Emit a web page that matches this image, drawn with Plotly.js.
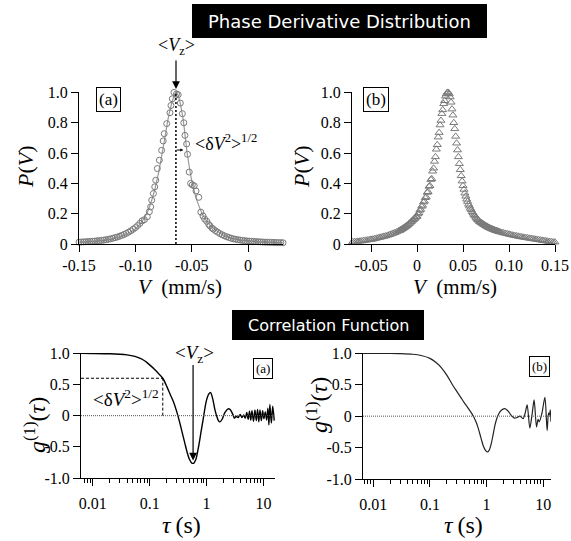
<!DOCTYPE html>
<html><head><meta charset="utf-8">
<script src="https://cdn.plot.ly/plotly-3.0.1.min.js"></script>
<style>html,body{margin:0;padding:0;background:#fff;}#plot{width:571px;height:541px;}</style>
</head><body><div id="plot"></div>
<script>
// ---- Data ----
// (a) phase derivative distribution, circles
const tlV = [-0.150,-0.148,-0.146,-0.144,-0.142,-0.140,-0.138,-0.136,-0.134,-0.132,-0.130,-0.128,-0.126,-0.124,-0.122,-0.120,-0.118,-0.116,-0.114,-0.112,-0.110,-0.108,-0.106,-0.104,-0.102,-0.100,-0.098,-0.096,-0.094,-0.092,
 -0.0894,-0.0876,-0.0864,-0.0855,-0.0840,-0.0828,-0.0819,-0.0805,-0.0787,-0.0767,-0.0753,-0.0744,-0.0722,-0.0693,-0.0684,-0.0672,-0.0657,
 -0.0635,-0.0620,-0.0601,-0.0583,-0.0570,-0.0560,-0.0545,-0.0537,-0.0522,-0.0510,-0.0495,-0.0478,-0.0462,-0.0437,-0.0419,-0.0400,-0.0385,-0.0367,-0.0350,-0.0338,-0.0320,-0.0308,
 -0.029,-0.027,-0.025,-0.023,-0.021,-0.019,-0.017,-0.015,-0.013,-0.011,-0.009,-0.007,-0.005,-0.003,-0.001,0.001,0.003,0.005,0.007,0.009,0.011,0.013,0.015,0.017,0.019,0.021,0.023,0.025,0.027,0.029,0.031];
const tlP = [0.012,0.013,0.014,0.015,0.016,0.017,0.018,0.019,0.021,0.022,0.024,0.026,0.028,0.031,0.034,0.038,0.042,0.046,0.051,0.057,0.063,0.070,0.078,0.087,0.097,0.108,0.121,0.136,0.153,0.160,
 0.180,0.213,0.245,0.289,0.333,0.377,0.421,0.498,0.553,0.618,0.680,0.728,0.794,0.866,0.914,0.958,1.000,
 0.990,0.985,0.930,0.860,0.800,0.717,0.660,0.592,0.475,0.400,0.390,0.384,0.350,0.308,0.210,0.185,0.165,0.150,0.130,0.120,0.105,0.098,
 0.088,0.078,0.069,0.061,0.054,0.048,0.043,0.038,0.034,0.031,0.028,0.026,0.024,0.022,0.020,0.019,0.018,0.017,0.016,0.015,0.014,0.013,0.012,0.012,0.011,0.011,0.010,0.010,0.009,0.009,0.008];
// (a) fitted curve (gray line)
const fitV = [-0.15,-0.14,-0.13,-0.12,-0.11,-0.10,-0.095,-0.09,-0.085,-0.08,-0.075,-0.07,-0.066,-0.064,-0.062,-0.058,-0.054,-0.05,-0.045,-0.04,-0.035,-0.03,-0.02,-0.01,0,0.01,0.02,0.031];
const fitP = [0.012,0.016,0.022,0.034,0.058,0.10,0.14,0.20,0.30,0.45,0.65,0.86,0.97,1.0,0.98,0.84,0.60,0.42,0.28,0.19,0.135,0.10,0.052,0.03,0.02,0.014,0.011,0.008];
// (b) phase derivative distribution, triangles (first set)
const trV = [-0.070,-0.068,-0.066,-0.064,-0.062,-0.060,-0.058,-0.056,-0.054,-0.052,
 -0.050,-0.048,-0.046,-0.044,-0.042,-0.040,-0.038,-0.036,-0.034,-0.032,
 -0.030,-0.028,-0.026,-0.024,-0.022,-0.020,-0.018,-0.016,-0.014,-0.012,
 -0.010,-0.008,-0.006,-0.004,-0.002,0.000,0.002,0.004,0.006,0.008,
 0.010,0.012,0.014,0.016,0.018,0.020,0.022,0.024,0.026,0.028,
 0.030,0.032,0.034,0.036,0.038,0.040,0.042,0.044,0.046,0.048,
 0.050,0.052,0.054,0.056,0.058,0.060,0.062,0.064,0.066,0.068,
 0.070,0.072,0.074,0.076,0.078,0.080,0.082,0.084,0.086,0.088,
 0.090,0.092,0.094,0.096,0.098,0.100,0.102,0.104,0.106,0.108,
 0.110,0.112,0.114,0.116,0.118,0.120,0.122,0.124,0.126,0.128,
 0.130,0.132,0.134,0.136,0.138,0.140,0.142,0.144,0.146,0.148,0.150];
const trP = [0.014,0.015,0.016,0.017,0.019,0.020,0.022,0.024,0.026,0.028,
 0.030,0.032,0.035,0.038,0.041,0.044,0.047,0.050,0.053,0.057,
 0.061,0.065,0.070,0.075,0.080,0.086,0.093,0.100,0.108,0.117,
 0.125,0.136,0.148,0.160,0.170,0.182,0.205,0.228,0.255,0.282,
 0.310,0.345,0.385,0.430,0.500,0.575,0.655,0.735,0.815,0.885,
 0.945,0.990,1.000,0.970,0.890,0.800,0.710,0.620,0.530,0.450,
 0.385,0.335,0.295,0.262,0.235,0.212,0.192,0.175,0.160,0.147,
 0.140,0.131,0.123,0.116,0.109,0.103,0.098,0.093,0.088,0.084,
 0.080,0.076,0.073,0.070,0.067,0.064,0.061,0.058,0.056,0.053,
 0.051,0.048,0.046,0.044,0.042,0.040,0.038,0.036,0.034,0.032,
 0.030,0.028,0.026,0.024,0.022,0.020,0.018,0.016,0.015,0.013,0.012];
// (b) triangles (second, interleaved set in the dense central part)
const trV2 = [-0.019,-0.017,-0.015,-0.013,-0.011,-0.009,-0.007,-0.005,-0.003,-0.001,
 0.001,0.003,0.005,0.007,0.009,0.011,0.013,0.015,0.017,0.019,
 0.021,0.023,0.025,0.027,0.029,0.031,0.033,0.035,0.037,0.039,
 0.041,0.043,0.045,0.047,0.049,0.051,0.053,0.055,0.057,0.059,
 0.061,0.063,0.065,0.067,0.069,0.071,0.073,0.075,0.077,0.079,
 0.081,0.083,0.085,0.087,0.089];
const trP2 = [0.088,0.096,0.104,0.113,0.122,0.132,0.144,0.156,0.168,0.180,
 0.198,0.222,0.248,0.276,0.305,0.340,0.380,0.425,0.480,0.545,
 0.625,0.705,0.785,0.860,0.925,0.975,1.000,0.990,0.935,0.850,
 0.760,0.665,0.575,0.490,0.415,0.360,0.315,0.280,0.250,0.225,
 0.203,0.185,0.168,0.155,0.143,0.135,0.127,0.119,0.112,0.106,
 0.100,0.095,0.090,0.086,0.082];
// (a) correlation function
const tauA = [0.0062,0.01,0.02,0.03,0.04,0.05,0.06,0.07,0.08,0.09,0.10,0.12,0.14,0.17,0.20,0.23,0.26,0.30,0.34,0.38,0.42,0.46,0.50,0.55,0.60,0.65,0.70,0.75,0.80,0.85,0.90,0.95,1.0,1.1,1.18,1.3,1.4,1.5,1.6,1.72,1.9,2.1,2.4,2.6,2.9,3.1,3.3,3.6,3.9,4.2,4.5,4.8,5.1,5.4,5.7,6.0,6.3,6.7,7.1,7.5,7.9,8.3,8.7,9.2,9.7,10.2,10.8,11.4,12.0,12.5,13.0,13.8,14.6,15.5];
const gA = [1.0,0.998,0.993,0.985,0.975,0.96,0.94,0.915,0.885,0.85,0.815,0.75,0.685,0.60,0.47,0.34,0.23,0.06,-0.12,-0.30,-0.46,-0.60,-0.70,-0.76,-0.76,-0.70,-0.57,-0.42,-0.26,-0.12,0.02,0.15,0.25,0.35,0.37,0.25,0.10,0.0,-0.07,-0.10,-0.05,0.05,0.11,0.10,0.02,-0.04,-0.01,-0.03,0.02,-0.03,0.01,-0.04,0.05,-0.06,0.07,-0.07,0.08,-0.09,0.09,-0.08,0.10,-0.10,0.09,-0.08,0.08,-0.05,0.06,-0.07,0.12,-0.15,0.18,-0.12,0.15,-0.08];
// (b) correlation function
const tauB = [0.0062,0.01,0.02,0.03,0.05,0.07,0.10,0.13,0.16,0.20,0.25,0.30,0.35,0.40,0.45,0.50,0.55,0.60,0.65,0.70,0.76,0.82,0.88,0.95,1.03,1.1,1.2,1.3,1.4,1.5,1.6,1.8,2.1,2.4,2.8,3.1,3.5,3.9,4.4,4.8,5.2,5.8,6.4,6.9,7.6,8.1,8.5,9.5,10.7,11.7,12.4,12.9,13.3,13.7];
const gB = [1.0,1.0,0.998,0.995,0.985,0.965,0.92,0.85,0.77,0.65,0.50,0.39,0.30,0.22,0.155,0.095,0.04,-0.02,-0.09,-0.17,-0.28,-0.39,-0.48,-0.54,-0.57,-0.55,-0.45,-0.30,-0.15,-0.05,0.02,0.09,0.12,0.08,0.0,-0.03,-0.02,0.0,-0.04,0.05,0.18,-0.19,0.05,0.26,-0.17,-0.05,-0.09,0.05,0.30,-0.23,0.05,0.02,0.10,-0.09];
// tick labels
const tlXTicks = [-0.15,-0.10,-0.05,0];
const tlXText = ["-0.15","-0.10","-0.05","0"];
const trXTicks = [-0.05,0,0.05,0.10,0.15];
const trXText = ["-0.05","0","0.05","0.10","0.15"];
const pTicks = [0,0.2,0.4,0.6,0.8,1.0];
const pText = ["0","0.2","0.4","0.6","0.8","1.0"];
const gTicks = [-1.0,-0.5,0,0.5,1.0];
const gText = ["-1.0","-0.5","0","0.5","1.0"];
const tauTicks = [0.01,0.1,1,10];
const tauText = ["0.01","0.1","1","10"];
// annotation reference values
const vzA = -0.064;          // <Vz> in panel (a)
const dvA = -0.0575;         // tip of small width arrow
const dvLevel = 0.62;
const tauWidth = 0.17, gWidth = 0.6;
const tauVz = 0.58, gVzTip = -0.72;

// ---- layout helpers ----
const W = 571, H = 541;
const PX = x => x / W, PY = y => 1 - y / H;
const serif = "Liberation Serif";
const sans = "DejaVu Sans";
const tickFont = {family: serif, size: 16, color: "#000"};
function axBase(extra) {
  return Object.assign({showline: true, linecolor: "#000", linewidth: 1, ticks: "outside", ticklen: 7,
    tickcolor: "#000", tickwidth: 1, showgrid: false, zeroline: false, tickfont: tickFont,
    tickmode: "array", fixedrange: true}, extra);
}
function minorLog(lo, hi) {
  const v = [];
  for (let d = -3; d <= 2; d++) for (let k = 2; k <= 9; k++) { const t = k * Math.pow(10, d); if (t >= lo && t <= hi) v.push(t); }
  return {ticks: "outside", ticklen: 4, tickcolor: "#000", tickwidth: 1, tickmode: "array", tickvals: v, showgrid: false};
}

const triMarker = {symbol: "triangle-up-open", size: 7, color: "#7a7a7a", line: {width: 1, color: "#7a7a7a"}};
const traces = [
  {x: fitV, y: fitP, xaxis: "x", yaxis: "y", mode: "lines", line: {color: "#9a9a9a", width: 1.2, shape: "spline"}, hoverinfo: "skip"},
  {x: tlV, y: tlP, xaxis: "x", yaxis: "y", mode: "markers", cliponaxis: false,
   marker: {symbol: "circle-open", size: 6, color: "#7a7a7a", line: {width: 1, color: "#7a7a7a"}}},
  {x: trV, y: trP, xaxis: "x2", yaxis: "y2", mode: "markers", cliponaxis: false, marker: triMarker},
  {x: trV2, y: trP2, xaxis: "x2", yaxis: "y2", mode: "markers", cliponaxis: false, marker: triMarker},
  {x: tauA, y: gA, xaxis: "x3", yaxis: "y3", mode: "lines", line: {color: "#000", width: 1.4, shape: "spline", smoothing: 0.8}},
  {x: tauB, y: gB, xaxis: "x4", yaxis: "y4", mode: "lines", line: {color: "#222", width: 1.2, shape: "spline", smoothing: 0.8}}
];

const topY = [PY(244), PY(92)];
const layout = {
  width: W, height: H, margin: {l: 0, r: 0, t: 0, b: 0}, showlegend: false,
  font: {family: serif, color: "#000"},
  paper_bgcolor: "#fff", plot_bgcolor: "rgba(0,0,0,0)",
  xaxis: axBase({domain: [PX(79), PX(283)], range: [-0.15, 0.031], anchor: "y", tickvals: tlXTicks, ticktext: tlXText}),
  yaxis: axBase({domain: topY, range: [0, 1.003], anchor: "x", tickvals: pTicks, ticktext: pText}),
  xaxis2: axBase({domain: [PX(352), PX(555)], range: [-0.0707, 0.15], anchor: "y2", tickvals: trXTicks, ticktext: trXText}),
  yaxis2: axBase({domain: topY, range: [0, 1.003], anchor: "x2", tickvals: pTicks, ticktext: pText}),
  xaxis3: axBase({domain: [PX(81), PX(275)], type: "log", range: [Math.log10(0.0062), Math.log10(16)], anchor: "y3",
    tickvals: tauTicks, ticktext: tauText, minor: minorLog(0.0062, 16), ticklabelstandoff: 4}),
  yaxis3: axBase({domain: [PY(478), PY(353)], range: [-1.0, 1.005], anchor: "x3", tickvals: gTicks, ticktext: gText}),
  xaxis4: axBase({domain: [PX(363), PX(551)], type: "log", range: [Math.log10(0.0066), Math.log10(13.7)], anchor: "y4",
    tickvals: tauTicks, ticktext: tauText, minor: minorLog(0.0066, 13.7), ticklabelstandoff: 4}),
  yaxis4: axBase({domain: [PY(479), PY(353)], range: [-1.0, 1.005], anchor: "x4", tickvals: gTicks, ticktext: gText}),
  shapes: [
    {type: "rect", xref: "paper", yref: "paper", x0: PX(192), x1: PX(487), y0: PY(38), y1: PY(4), fillcolor: "#000", line: {width: 0}},
    {type: "rect", xref: "paper", yref: "paper", x0: PX(232), x1: PX(424), y0: PY(340), y1: PY(310), fillcolor: "#000", line: {width: 0}},
    {type: "line", xref: "x", yref: "y", x0: vzA, x1: vzA, y0: 0, y1: 1.0, line: {color: "#000", width: 1.5, dash: "2px,2px"}},
    {type: "line", xref: "x3 domain", yref: "y3", x0: 0, x1: 1, y0: 0, y1: 0, line: {color: "#555", width: 1, dash: "1px,1px"}},
    {type: "line", xref: "x3", yref: "y3", x0: 0.0062, x1: tauWidth, y0: gWidth, y1: gWidth, line: {color: "#000", width: 1, dash: "3px,2px"}},
    {type: "line", xref: "x3", yref: "y3", x0: tauWidth, x1: tauWidth, y0: 0, y1: gWidth, line: {color: "#000", width: 1, dash: "3px,2px"}},
    {type: "line", xref: "x4 domain", yref: "y4", x0: 0, x1: 1, y0: 0, y1: 0, line: {color: "#555", width: 1, dash: "1px,1px"}}
  ],
  annotations: []
};

const A = layout.annotations;
function txt(x, y, text, size, opts) {
  A.push(Object.assign({xref: "paper", yref: "paper", x: PX(x), y: PY(y), text: text, showarrow: false,
    xanchor: "center", yanchor: "middle", font: {family: serif, size: size, color: "#000"}}, opts || {}));
}
// banners
txt(339.5, 21, "Phase Derivative Distribution", 18, {font: {family: sans, size: 18, color: "#fff"}});
txt(328.5, 325, "Correlation Function", 16, {font: {family: sans, size: 16, color: "#fff"}});
// axis titles
txt(25, 167, "<i>P</i>(<i>V</i>)", 22, {textangle: -90});
txt(180, 287, "<i>V</i>\u00a0 (mm/s)", 21);
txt(301, 167, "<i>P</i>(<i>V</i>)", 22, {textangle: -90});
txt(455, 287, "<i>V</i>\u00a0 (mm/s)", 21);
txt(35, 425, "<i>g</i><sup>(1)</sup>(<i>τ</i>)", 24, {textangle: -90});
txt(181, 525, "<i>τ</i>\u2009(s)", 24);
txt(317, 405, "<i>g</i><sup>(1)</sup>(<i>τ</i>)", 24, {textangle: -90});
txt(463, 525, "<i>τ</i>\u2009(s)", 24);
// panel labels
const box = {bordercolor: "#000", borderwidth: 1, borderpad: 2, bgcolor: "#fff"};
txt(108.5, 99.5, "(a)", 17, box);
txt(376, 99.5, "(b)", 17, box);
txt(262.5, 368, "(a)", 13, box);
txt(539.5, 366.5, "(b)", 13, box);
// <Vz> labels and width labels
txt(176, 47, "&lt;<i>V</i><sub>z</sub>&gt;", 18);
txt(193, 142, "&lt;δ<i>V</i><sup>2</sup>&gt;<sup>1/2</sup>", 18, {xanchor: "left"});
txt(194, 354, "&lt;<i>V</i><sub>z</sub>&gt;", 19);
txt(91, 398, "&lt;δ<i>V</i><sup>2</sup>&gt;<sup>1/2</sup>", 19, {xanchor: "left"});
// arrows
A.push({xref: "paper", yref: "paper", x: PX(176), y: PY(89), ax: 0, ay: -30, text: "", showarrow: true,
  arrowhead: 2, arrowsize: 1.3, arrowwidth: 1.2, arrowcolor: "#000"});
A.push({xref: "x", yref: "y", x: dvA, y: dvLevel, ax: -8, ay: 0, text: "", showarrow: true,
  arrowhead: 2, arrowsize: 0.6, arrowwidth: 1, arrowcolor: "#000"});
A.push({xref: "x3", yref: "y3", x: Math.log10(tauVz), y: gVzTip, ax: 0, ay: -97, text: "", showarrow: true,
  arrowhead: 2, arrowsize: 1.3, arrowwidth: 1.2, arrowcolor: "#000"});

Plotly.newPlot("plot", traces, layout, {staticPlot: true, displayModeBar: false});
</script></body></html>
